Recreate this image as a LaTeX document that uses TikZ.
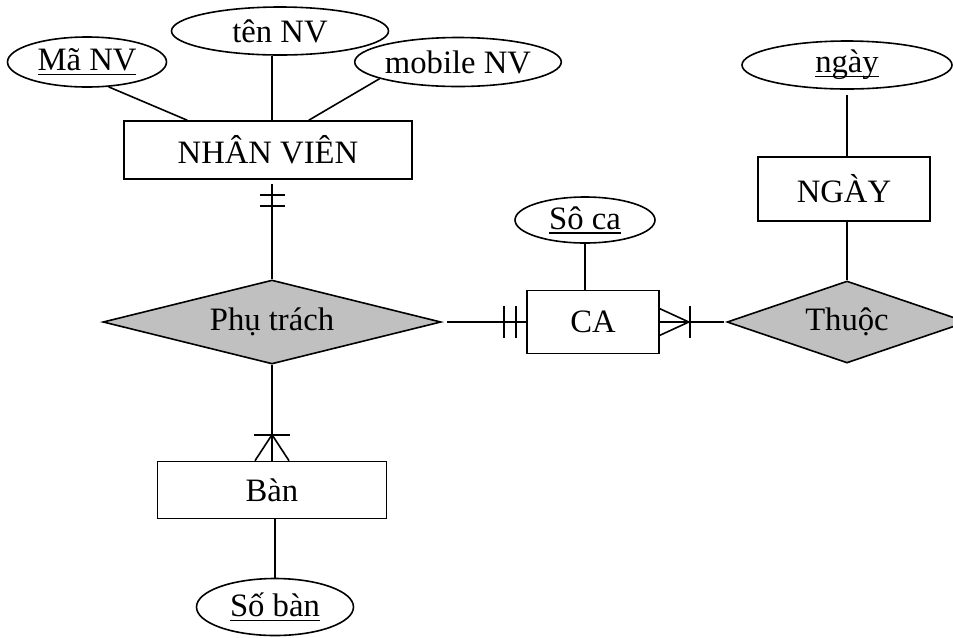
\documentclass[tikz,border=0pt]{standalone}
\usepackage{fontspec}
\setmainfont{Liberation Serif}
\usepackage{tikz}
\usetikzlibrary{shapes.geometric}
\definecolor{relgray}{RGB}{192,192,192}

% key attribute: underline at a fixed depth
\newcommand{\keyul}[1]{\setbox0=\hbox{#1}\rlap{\rule[-3.4pt]{\wd0}{0.9pt}}\box0}

\begin{document}
\begin{tikzpicture}[x=0.75pt,y=-0.75pt,line width=1.2pt,
        every node/.style={font=\fontsize{24.5}{28}\selectfont},
        entity/.style={draw,rectangle,inner sep=0pt},
        attr/.style={draw,ellipse,inner sep=0pt},
        rel/.style={draw,diamond,fill=relgray,inner sep=0pt,aspect=4}]

        \useasboundingbox (0,0) rectangle (953,637);

        % ------------------------------------------------ NHAN VIEN and its attributes
        \node[attr,minimum width=119.25pt,minimum height=37.5pt] (manv)     at (87,62)  {\keyul{Mã NV}};
        \node[attr,minimum width=162.75pt,minimum height=36pt]   (tennv)    at (280,31) {tên NV};
        \node[attr,minimum width=151.5pt,minimum height=36.75pt] (mobilenv) at (458,62) {mobile NV};
        \node[entity,minimum width=216pt,minimum height=43.5pt]  (nhanvien) at (268,150) {NHÂN VIÊN};

        \draw (manv.-49) -- ([xshift=48pt]nhanvien.north west);
        \draw (mobilenv.192) -- ([xshift=-78pt]nhanvien.north east);

        % ------------------------------------------------ Phu trach, Ban
        \node[rel,minimum width=253.5pt,minimum height=63pt]     (phutrach) at (272,322) {Phụ trách};
        \node[entity,minimum width=171.75pt,minimum height=42.75pt] (ban)   at (272,490) {Bàn};
        \node[attr,minimum width=117.75pt,minimum height=42.75pt] (soban)   at (275,607) {\keyul{Số bàn}};

        \coordinate (nvfoot) at (nhanvien.south -| phutrach.north);
        \draw (tennv.south -| nvfoot) -- (nhanvien.north -| nvfoot);
        \draw[shorten <=3pt] (nvfoot) -- (phutrach.north);
        \draw ([xshift=-9pt,yshift=-11.25pt]nvfoot) -- ++(18.75pt,0);
        \draw ([xshift=-9pt,yshift=-19.5pt]nvfoot)  -- ++(18.75pt,0);

        % one or many: crow's foot on Ban
        \draw (phutrach.south) -- (ban.north);
        \draw ([yshift=19.5pt]ban.north) -- ([xshift=-12.75pt]ban.north);
        \draw ([yshift=19.5pt]ban.north) -- ([xshift=12.75pt]ban.north);
        \draw ([xshift=-13.5pt,yshift=19.5pt]ban.north) -- ++(27pt,0);

        \draw (soban.north) -- (soban.north |- ban.south);

        % ------------------------------------------------ CA
        \node[entity,minimum width=99pt,minimum height=47.25pt] (ca)   at (593,322) {CA};
        \node[attr,minimum width=105pt,minimum height=34.5pt]   (soca) at (585,220) {\keyul{Sô ca}};

        \draw (soca.south) -- (soca.south |- ca.north);
        \draw[shorten <=4pt] (phutrach.east) -- (ca.west);
        \draw ([xshift=-16.5pt,yshift=-12pt]ca.west) -- ++(0,24pt);
        \draw ([xshift=-7.5pt,yshift=-12pt]ca.west)  -- ++(0,24pt);

        % ------------------------------------------------ NGAY, Thuoc
        \node[rel,minimum width=180pt,minimum height=61.5pt]   (thuoc)   at (847,322) {Thuộc};
        \node[entity,minimum width=129pt,minimum height=48pt]  (ngay)    at (844,189) {NGÀY};
        \node[attr,minimum width=157.5pt,minimum height=36pt]  (ngayatt) at (847,65)  {\keyul{ngày}};

        \draw[shorten <=4pt] (ngayatt.south) -- (ngayatt.south |- ngay.north);
        \draw (ngay.south -| thuoc.north) -- (thuoc.north);

        % many side on CA
        \draw[shorten >=2pt] (ca.east) -- (thuoc.west);
        \draw ([yshift=10pt]ca.east)  -- ([xshift=21.75pt]ca.east);
        \draw ([yshift=-10pt]ca.east) -- ([xshift=21.75pt]ca.east);
        \draw ([xshift=22.5pt,yshift=-12pt]ca.east) -- ++(0,24pt);

\end{tikzpicture}
\end{document}
